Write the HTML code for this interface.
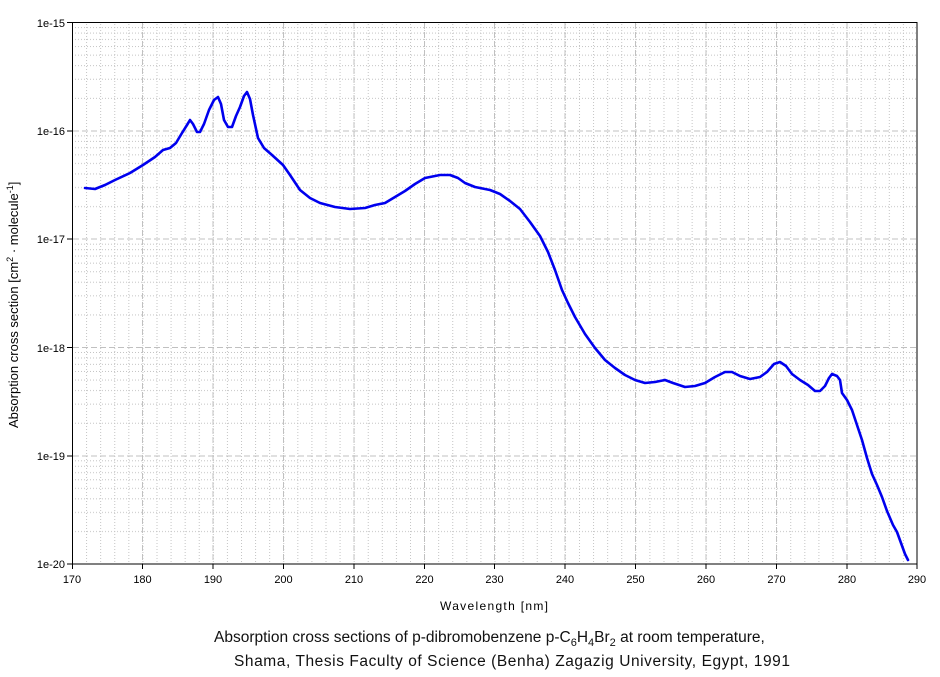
<!DOCTYPE html>
<html><head><meta charset="utf-8"><style>
body{margin:0;background:#fff;width:940px;height:672px;overflow:hidden;font-family:"Liberation Sans",sans-serif}
</style></head><body>
<svg width="940" height="672" xmlns="http://www.w3.org/2000/svg" font-family="Liberation Sans, sans-serif">
<defs>
<pattern id="vx" x="72" y="0" width="14.083" height="672" patternUnits="userSpaceOnUse">
<line x1="0.5" y1="0" x2="0.5" y2="672" stroke="#c4c4c4" stroke-dasharray="1,2"/>
</pattern>
<pattern id="hy" x="0" y="22.6" width="940" height="108.3" patternUnits="userSpaceOnUse">
<g stroke="#c4c4c4" stroke-dasharray="1,2">
<line x1="0" y1="5" x2="940" y2="5"/><line x1="0" y1="10.5" x2="940" y2="10.5"/>
<line x1="0" y1="16.8" x2="940" y2="16.8"/><line x1="0" y1="24" x2="940" y2="24"/>
<line x1="0" y1="32.6" x2="940" y2="32.6"/><line x1="0" y1="43.1" x2="940" y2="43.1"/>
<line x1="0" y1="56.6" x2="940" y2="56.6"/><line x1="0" y1="75.7" x2="940" y2="75.7"/>
</g></pattern>
</defs>
<rect x="73" y="23" width="844" height="541" fill="url(#vx)"/>
<rect x="73" y="23" width="844" height="541" fill="url(#hy)"/>
<g stroke="#c0c0c0" stroke-dasharray="6,3" stroke-width="1">
<line x1="142.5" y1="23" x2="142.5" y2="564"/><line x1="213" y1="23" x2="213" y2="564"/>
<line x1="283.5" y1="23" x2="283.5" y2="564"/><line x1="354" y1="23" x2="354" y2="564"/>
<line x1="424.5" y1="23" x2="424.5" y2="564"/><line x1="494.5" y1="23" x2="494.5" y2="564"/>
<line x1="565" y1="23" x2="565" y2="564"/><line x1="635.5" y1="23" x2="635.5" y2="564"/>
<line x1="706" y1="23" x2="706" y2="564"/><line x1="776.5" y1="23" x2="776.5" y2="564"/>
<line x1="847" y1="23" x2="847" y2="564"/>
<line x1="73" y1="131" x2="917" y2="131"/><line x1="73" y1="239" x2="917" y2="239"/>
<line x1="73" y1="347.5" x2="917" y2="347.5"/><line x1="73" y1="456" x2="917" y2="456"/>
</g>
<rect x="72.5" y="22.5" width="844.5" height="541.5" fill="none" stroke="#000" stroke-width="1"/>
<g stroke="#000">
<line x1="72.5" y1="564" x2="72.5" y2="569"/><line x1="142.5" y1="564" x2="142.5" y2="569"/>
<line x1="213" y1="564" x2="213" y2="569"/><line x1="283.5" y1="564" x2="283.5" y2="569"/>
<line x1="354" y1="564" x2="354" y2="569"/><line x1="424.5" y1="564" x2="424.5" y2="569"/>
<line x1="494.5" y1="564" x2="494.5" y2="569"/><line x1="565" y1="564" x2="565" y2="569"/>
<line x1="635.5" y1="564" x2="635.5" y2="569"/><line x1="706" y1="564" x2="706" y2="569"/>
<line x1="776.5" y1="564" x2="776.5" y2="569"/><line x1="847" y1="564" x2="847" y2="569"/>
<line x1="917" y1="564" x2="917" y2="569"/>
<line x1="67" y1="22.5" x2="72" y2="22.5"/><line x1="67" y1="131" x2="72" y2="131"/>
<line x1="67" y1="239" x2="72" y2="239"/><line x1="67" y1="347.5" x2="72" y2="347.5"/>
<line x1="67" y1="456" x2="72" y2="456"/><line x1="67" y1="564" x2="72" y2="564"/>
</g>
<g font-size="11" fill="#000" text-anchor="middle">
<text x="72" y="583">170</text><text x="142.5" y="583">180</text><text x="213" y="583">190</text>
<text x="283.5" y="583">200</text><text x="354" y="583">210</text><text x="424.5" y="583">220</text>
<text x="494.5" y="583">230</text><text x="565" y="583">240</text><text x="635.5" y="583">250</text>
<text x="706" y="583">260</text><text x="776.5" y="583">270</text><text x="847" y="583">280</text>
<text x="917" y="583">290</text>
</g>
<g font-size="11" fill="#000" text-anchor="end">
<text x="65" y="27">1e-15</text><text x="65" y="135">1e-16</text><text x="65" y="243">1e-17</text>
<text x="65" y="352">1e-18</text><text x="65" y="460">1e-19</text><text x="65" y="568">1e-20</text>
</g>
<text x="440" y="610" font-size="12" textLength="108" lengthAdjust="spacing">Wavelength [nm]</text>
<text transform="translate(18,428) rotate(-90)" font-size="13">Absorption cross section [cm<tspan font-size="9" dy="-5">2</tspan><tspan dy="5"> · molecule</tspan><tspan font-size="9" dy="-5">-1</tspan><tspan dy="5">]</tspan></text>
<text x="214" y="642" font-size="15.5" fill="#111">Absorption cross sections of p-dibromobenzene p-C<tspan font-size="11" dy="4">6</tspan><tspan dy="-4">H</tspan><tspan font-size="11" dy="4">4</tspan><tspan dy="-4">Br</tspan><tspan font-size="11" dy="4">2</tspan><tspan dy="-4"> at room temperature,</tspan></text>
<text x="234" y="666" font-size="15.5" fill="#111" textLength="556" lengthAdjust="spacing">Shama, Thesis Faculty of Science (Benha) Zagazig University, Egypt, 1991</text>
<polyline fill="none" stroke="#0000ee" stroke-width="2.6" stroke-linejoin="round" stroke-linecap="round" points="85,188 95,189 105,185 115,180 130,173 143,165 155,157 163,150 170,148 176,143 182,133 187,125 190,120 193,124 197,132 200,132 204,124 209,110 214,100 218,97 221,104 224,120 228,127 232,127 236,116 240,107 244,96 247,92 250,99 253,115 258,138 264,148 272,155 283,165 290,175 300,190 310,198 320,203 335,207 350,209 365,208 375,205 385,203 395,197 405,191 415,184 425,178 440,175 450,175 458,178 465,183 475,187 490,190 500,194 510,201 520,209 530,222 540,236 548,252 555,270 562,290 568,303 575,317 585,334 595,348 605,360 615,368 625,375 635,380 645,383 655,382 665,380 673,383 685,387 695,386 705,383 715,377 725,372 732,372 740,376 750,379 760,377 767,372 774,364 780,362 786,366 792,374 800,380 808,385 815,391 820,391 825,386 829,378 832,374 837,376 840,380 842,393 847,400 852,410 857,425 862,440 867,458 872,474 877,485 882,497 887,511 893,525 897,532 901,543 905,554 908,560"/>
</svg>
</body></html>
